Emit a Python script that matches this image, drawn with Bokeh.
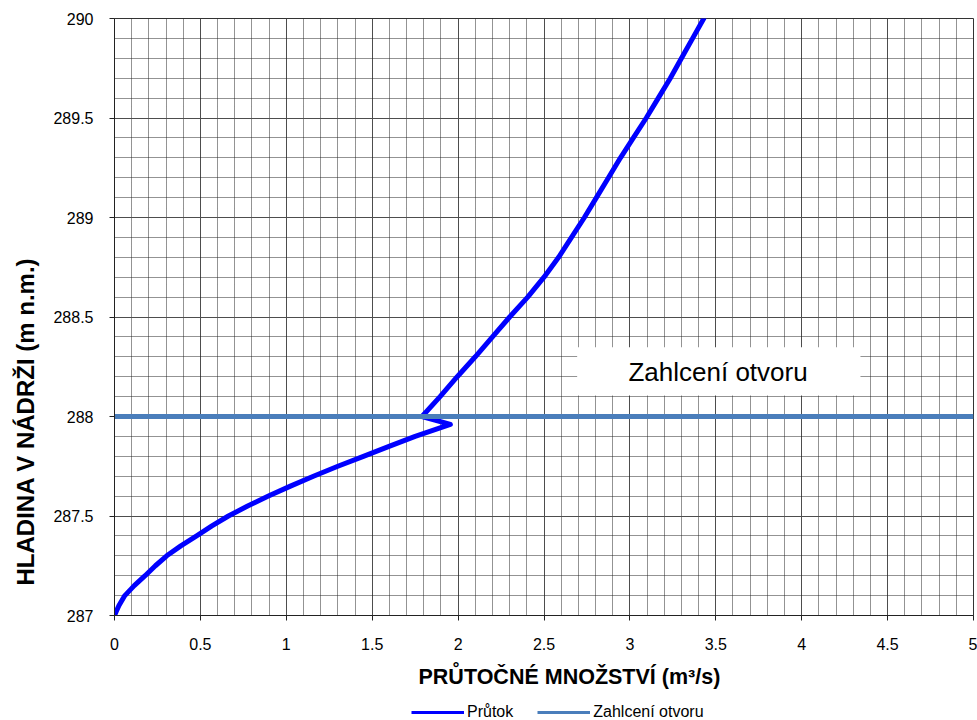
import numpy as np
from bokeh.plotting import figure
from bokeh.layouts import column
from bokeh.models import (Range1d, FixedTicker, Label, Legend, LegendItem, BoxAnnotation, Title)
from bokeh.embed import file_html
from bokeh.resources import INLINE

# ---- data ----
hladina = [287.0, 287.02, 287.05, 287.1, 287.15, 287.2, 287.25, 287.3, 287.35, 287.4, 287.45,
           287.5, 287.55, 287.6, 287.65, 287.7, 287.75, 287.8, 287.85, 287.9,
           287.96, 288.0, 288.1, 288.2, 288.3, 288.4, 288.5, 288.6, 288.7, 288.8, 288.9,
           289.0, 289.1, 289.2, 289.3, 289.4, 289.5, 289.6, 289.7, 289.8, 289.9, 290.0]
prutok = [0.0, 0.01, 0.026, 0.06, 0.115, 0.178, 0.238, 0.304, 0.386, 0.478, 0.567,
          0.663, 0.775, 0.896, 1.024, 1.158, 1.30, 1.449, 1.598, 1.75,
          1.955, 1.79, 1.895, 1.995, 2.10, 2.20, 2.30, 2.405, 2.50, 2.585, 2.66,
          2.735, 2.805, 2.875, 2.945, 3.02, 3.095, 3.165, 3.235, 3.30, 3.365, 3.43]
zahlceni_x = [0.0, 5.0]
zahlceni_y = [288.0, 288.0]

x_ticks = [0, 0.5, 1, 1.5, 2, 2.5, 3, 3.5, 4, 4.5, 5]
x_tick_labels = ["0", "0.5", "1", "1.5", "2", "2.5", "3", "3.5", "4", "4.5", "5"]
y_ticks = [287, 287.5, 288, 288.5, 289, 289.5, 290]
y_tick_labels = ["287", "287.5", "288", "288.5", "289", "289.5", "290"]

x_title = "PRŮTOČNÉ MNOŽSTVÍ (m³/s)"
y_title = "HLADINA V NÁDRŽI (m n.m.)"
annot_text = "Zahlcení otvoru"
legend_labels = ["Průtok", "Zahlcení otvoru"]

FONT = "Liberation Sans"
BLUE = "#0000FF"
STEEL = "#4A7EBB"

p = figure(width=977, height=703, output_backend="svg", toolbar_location=None,
           x_range=Range1d(0, 5), y_range=Range1d(287, 290),
           min_border_left=114, min_border_right=4, min_border_top=18, min_border_bottom=88)
p.background_fill_color = "white"
p.border_fill_color = "white"
p.outline_line_color = "#333333"
p.outline_line_width = 1

x_minor = [round(v, 2) for v in np.arange(0, 5.0001, 0.1) if abs(v * 2 - round(v * 2)) > 1e-6]
y_minor = [round(v, 2) for v in np.arange(287, 290.0001, 0.1) if abs(v * 2 - round(v * 2)) > 1e-6]
p.xaxis.ticker = FixedTicker(ticks=x_ticks, minor_ticks=x_minor)
p.yaxis.ticker = FixedTicker(ticks=y_ticks, minor_ticks=y_minor)
p.xaxis.major_label_overrides = dict(zip(x_ticks, x_tick_labels))
p.yaxis.major_label_overrides = dict(zip(y_ticks, y_tick_labels))

for ax in (p.xaxis, p.yaxis):
    ax.major_tick_in = 0
    ax.major_tick_out = 5
    ax.minor_tick_line_color = None
    ax.axis_line_color = "#222222"
    ax.major_tick_line_color = "#222222"
    ax.major_label_text_font = FONT
    ax.major_label_text_font_size = "16px"
    ax.major_label_text_color = "black"
p.xaxis.major_label_standoff = 17
p.yaxis.major_label_standoff = 16

for g in (p.xgrid, p.ygrid):
    g.grid_line_color = "#4d4d4d"
    g.grid_line_width = 1
    g.minor_grid_line_color = "#262626"
    g.minor_grid_line_dash = "1 1"
    g.minor_grid_line_width = 1

# annotation box
box = BoxAnnotation(left=2.693, right=4.342, bottom=288.106, top=288.348,
                    fill_color="white", fill_alpha=1.0, line_color=None)
p.add_layout(box)
p.add_layout(Label(x=3.513, y=288.226, text=annot_text, text_font=FONT, text_font_size="26px",
                   text_align="center", text_baseline="middle", text_color="black"))

r1 = p.line(prutok, hladina, line_color=BLUE, line_width=5, line_join="round", line_cap="round")
r2 = p.line(zahlceni_x, zahlceni_y, line_color=STEEL, line_width=5)

# axis titles
p.add_layout(Title(text=x_title, align="left", offset=304, text_font=FONT,
                   text_font_style="bold", text_font_size="21.5px", text_color="black",
                   standoff=21), "below")
p.add_layout(Title(text=y_title, align="left", offset=30, text_font=FONT,
                   text_font_style="bold", text_font_size="24px", text_color="black",
                   vertical_align="top", standoff=20), "left")

# legend strip (the legend renderers use the series data, which lies outside this strip's ranges)
lf = figure(width=977, height=17, output_backend="svg", toolbar_location=None,
            x_range=Range1d(0, 977), y_range=Range1d(0, 17),
            min_border=0, x_axis_type=None, y_axis_type=None)
lf.outline_line_color = None
lf.background_fill_color = "white"
lf.border_fill_color = "white"
lf.xgrid.visible = False
lf.ygrid.visible = False
lg1 = lf.line(prutok, hladina, line_color=BLUE, line_width=3)
lg2 = lf.line(zahlceni_x, zahlceni_y, line_color=STEEL, line_width=3)
legend = Legend(items=[LegendItem(label=legend_labels[0], renderers=[lg1]),
                       LegendItem(label=legend_labels[1], renderers=[lg2])],
                orientation="horizontal", location=(297, -1),
                label_text_font=FONT, label_text_font_size="16px", label_text_color="black",
                glyph_width=53, glyph_height=14, label_height=14, label_standoff=3,
                spacing=24, padding=0, margin=0,
                background_fill_alpha=0, border_line_color=None)
lf.add_layout(legend, "center")

layout = column(p, lf, spacing=0)
open("out.html", "w").write(file_html(layout, INLINE))
